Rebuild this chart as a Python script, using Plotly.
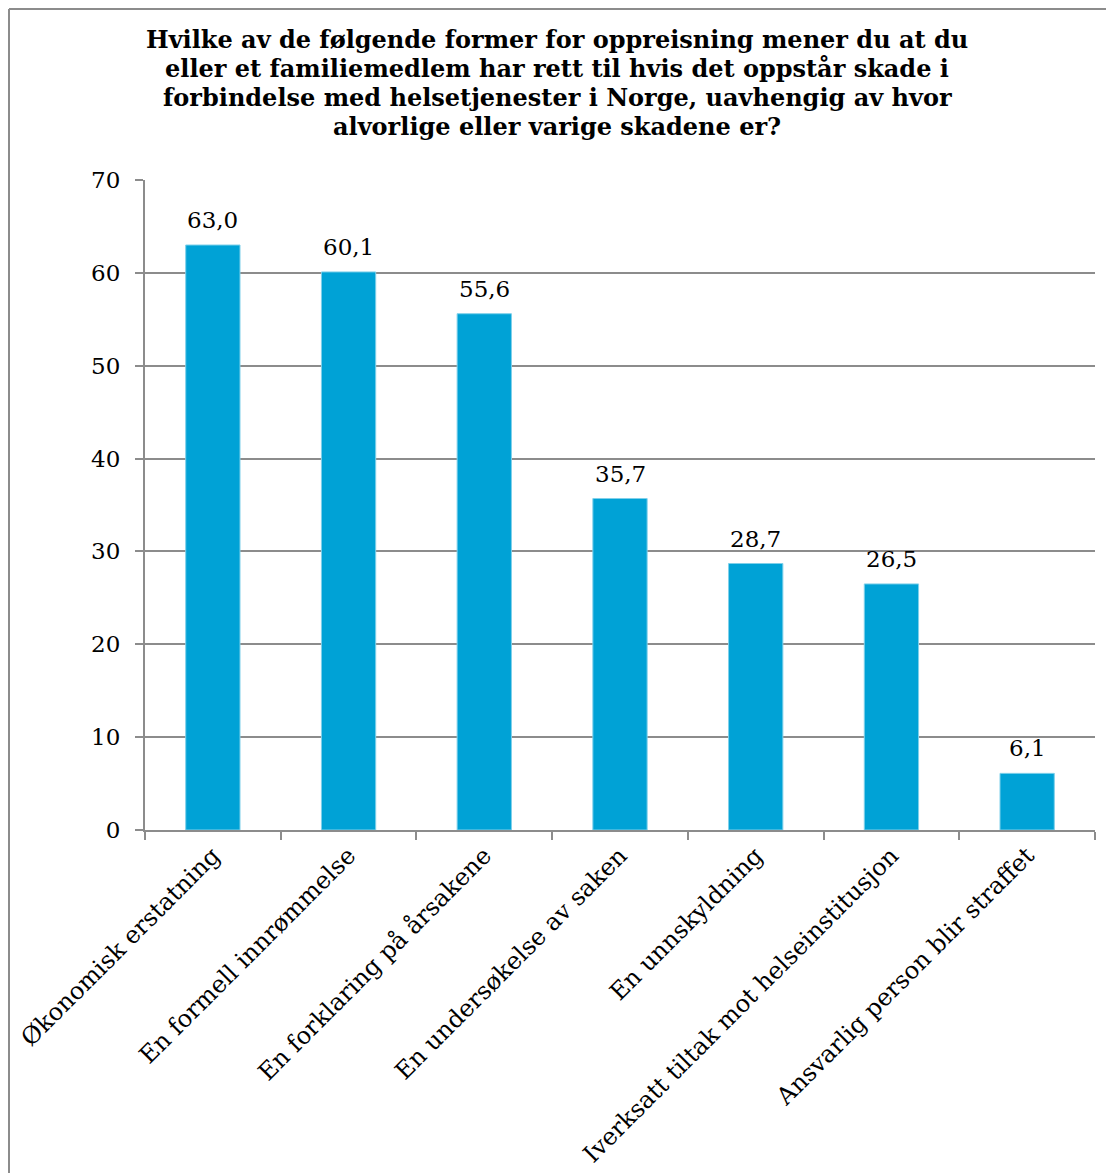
import plotly.graph_objects as go

categories = [
    "Økonomisk erstatning",
    "En formell innrømmelse",
    "En forklaring på årsakene",
    "En undersøkelse av saken",
    "En unnskyldning",
    "Iverksatt tiltak mot helseinstitusjon",
    "Ansvarlig person blir straffet",
]
values = [63.0, 60.1, 55.6, 35.7, 28.7, 26.5, 6.1]
value_labels = ["63,0", "60,1", "55,6", "35,7", "28,7", "26,5", "6,1"]
y_ticks = [0, 10, 20, 30, 40, 50, 60, 70]

title_lines = [
    "Hvilke av de følgende former for oppreisning mener du at du",
    "eller et familiemedlem har rett til hvis det oppstår skade i",
    "forbindelse med helsetjenester i Norge, uavhengig av hvor",
    "alvorlige eller varige skadene er?",
]

# page has an 8px body offset; compensate
OFF = 8
W, H = 1114 - OFF, 1173 - OFF
L, T = 145 - OFF, 180 - OFF
pw, ph = 950, 650
R = W - L - pw
B = H - T - ph

FONT = "DejaVu Serif"
GRID = "#8c8c8c"


def px_x(p):
    return (p - OFF - L) / pw


def px_y(p):
    return (H - B - (p - OFF)) / ph


fig = go.Figure()
fig.add_trace(go.Bar(
    x=categories, y=values,
    marker=dict(color="#00a2d6", line=dict(color="#7fd0ea", width=1)),
    hoverinfo="skip",
))

for c, v, t in zip(categories, values, value_labels):
    fig.add_annotation(x=c, y=v, text=t, showarrow=False, yanchor="bottom",
                       yshift=10, font=dict(family=FONT, size=23, color="black"))

# title, one line each for exact spacing (baselines approx 50, 79, 108, 137)
title_baselines = [50, 79, 108, 137]
for line, yb in zip(title_lines, title_baselines):
    fig.add_annotation(xref="paper", yref="paper", x=px_x(557), y=px_y(yb + 6),
                       text="<b>" + line + "</b>", showarrow=False,
                       xanchor="center", yanchor="bottom", align="center",
                       font=dict(family=FONT, size=24, color="black"))

# outer border (top and left only visible)
fig.add_shape(type="line", xref="paper", yref="paper",
              x0=px_x(OFF + 1), y0=px_y(OFF + 1), x1=px_x(1200), y1=px_y(OFF + 1),
              line=dict(color=GRID, width=2))
fig.add_shape(type="line", xref="paper", yref="paper",
              x0=px_x(OFF + 1), y0=px_y(OFF + 1), x1=px_x(OFF + 1), y1=px_y(1300),
              line=dict(color=GRID, width=2))

fig.update_layout(
    width=W, height=H,
    margin=dict(l=L, r=R, t=T, b=B, autoexpand=False),
    paper_bgcolor="white", plot_bgcolor="white",
    bargap=0.6, showlegend=False,
    font=dict(family=FONT, color="black"),
)
fig.update_xaxes(
    type="category", showline=True, linecolor=GRID, linewidth=2,
    ticks="outside", tickson="boundaries", ticklen=8, tickcolor=GRID, tickwidth=2,
    tickangle=-45, tickfont=dict(family=FONT, size=24, color="black"),
    showgrid=False,
)
fig.update_yaxes(
    range=[0, 70], tickvals=y_ticks, showline=True, linecolor=GRID, linewidth=2,
    ticks="outside", ticklen=8, tickcolor=GRID, tickwidth=2,
    showgrid=True, gridcolor=GRID, gridwidth=2, zeroline=False,
    tickfont=dict(family=FONT, size=23, color="black"), ticklabelstandoff=10,
)

fig.write_html("out.html")
